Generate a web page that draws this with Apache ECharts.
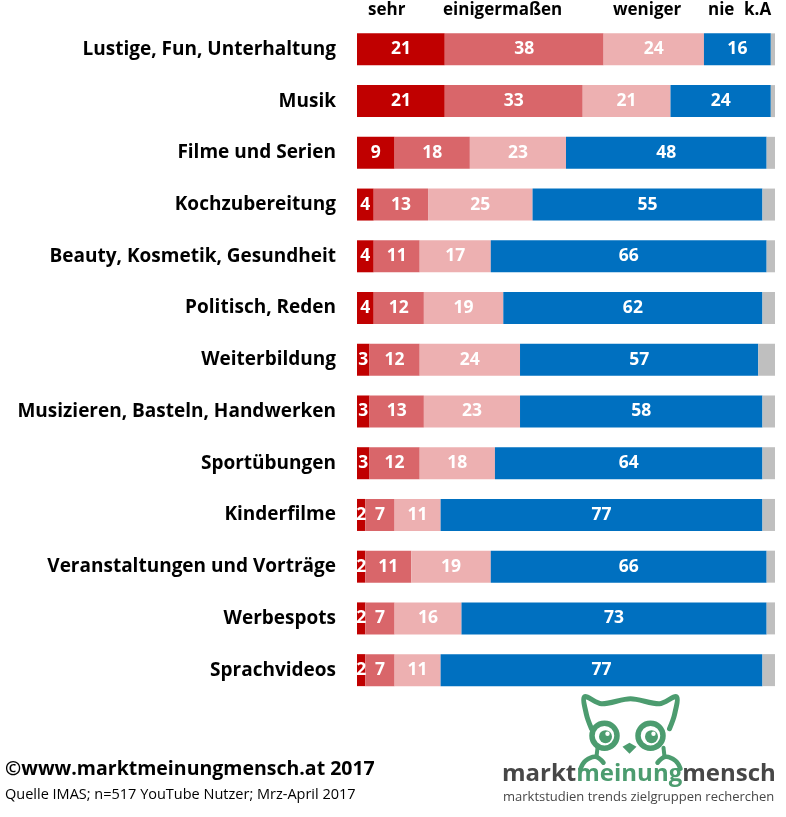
<!DOCTYPE html>
<html><head><meta charset="utf-8">
<script src="https://cdn.jsdelivr.net/npm/echarts@6/dist/echarts.min.js"></script>
<style>html,body{margin:0;padding:0;background:#fff}#c{width:786px;height:817px}</style>
</head><body><div id="c"></div>
<script>
const categories = ["Lustige, Fun, Unterhaltung","Musik","Filme und Serien","Kochzubereitung","Beauty, Kosmetik, Gesundheit","Politisch, Reden","Weiterbildung","Musizieren, Basteln, Handwerken","Sportübungen","Kinderfilme","Veranstaltungen und Vorträge","Werbespots","Sprachvideos"];
const seriesNames = ["sehr","einigermaßen","weniger","nie","k.A"];
const sehr = [21,21,9,4,4,4,3,3,3,2,2,2,2];
const einigermassen = [38,33,18,13,11,12,12,13,12,7,11,7,7];
const weniger = [24,21,23,25,17,19,24,23,18,11,19,16,11];
const nie = [16,24,48,55,66,62,57,58,64,77,66,73,77];
const kA = [1,1,2,3,2,3,4,3,3,3,2,2,3];
const colors = ["#C00000","#D9666A","#EDB0B1","#0070C0","#BFBFBF"];
const values = [sehr,einigermassen,weniger,nie,kA];

const chart = echarts.init(document.getElementById('c'));
const FONT = 'Open Sans';
const series = values.map((v,i)=>({
  name: seriesNames[i], type:'bar', stack:'t', data:v, barWidth:32,
  itemStyle:{color:colors[i]},
  label:{show:i<4, position:'inside', color:'#fff', fontFamily:FONT, fontWeight:'bold', fontSize:17.5, overflow:'none'}
}));
const green = '#4C9C6F';
const dark = '#474747';
chart.setOption({
  animation:false,
  grid:{left:357,right:11,top:23.5,bottom:817-696,containLabel:false},
  xAxis:{type:'value',min:0,max:100,show:false},
  yAxis:{type:'category',data:categories,inverse:true,axisLine:{show:false},axisTick:{show:false},
    axisLabel:{color:'#000',fontFamily:FONT,fontWeight:'bold',fontSize:19,margin:21}},
  series,
  graphic:[
    {type:'text',left:368,top:2,style:{text:'sehr',font:'bold 17px "Open Sans"',fill:'#000'}},
    {type:'text',left:443,top:2,style:{text:'einigermaßen',font:'bold 17px "Open Sans"',fill:'#000'}},
    {type:'text',left:613,top:2,style:{text:'weniger',font:'bold 17px "Open Sans"',fill:'#000'}},
    {type:'text',left:708,top:2,style:{text:'nie',font:'bold 17px "Open Sans"',fill:'#000'}},
    {type:'text',left:744,top:2,style:{text:'k.A',font:'bold 17px "Open Sans"',fill:'#000'}},
    {type:'text',left:5,top:759,style:{text:'©www.marktmeinungmensch.at 2017',font:'bold 19.5px "Open Sans"',fill:'#000'}},
    {type:'text',left:5,top:787,style:{text:'Quelle IMAS; n=517 YouTube Nutzer; Mrz-April 2017',font:'14.5px "Open Sans"',fill:'#000'}},
    {type:'group',left:578,top:694,children:[
      {type:'polyline',shape:{points:[[14,36],[9,22],[7,4],[24,11],[53,6],[82,11],[99,4],[97,22],[92,36]],smooth:0.3},style:{stroke:green,lineWidth:5,fill:null,lineJoin:'round',lineCap:'round'}},
      {type:'circle',shape:{cx:27,cy:43,r:12.5},style:{fill:'#fff',stroke:green,lineWidth:5.5}},
      {type:'circle',shape:{cx:73,cy:43,r:12.5},style:{fill:'#fff',stroke:green,lineWidth:5.5}},
      {type:'circle',shape:{cx:28,cy:44,r:6.5},style:{fill:green}},
      {type:'circle',shape:{cx:74,cy:44,r:6.5},style:{fill:green}},
      {type:'circle',shape:{cx:30,cy:41,r:2.2},style:{fill:'#fff'}},
      {type:'circle',shape:{cx:76,cy:41,r:2.2},style:{fill:'#fff'}},
      {type:'polygon',shape:{points:[[45,54],[52,50],[59,54],[52,61]]},style:{fill:green}},
      {type:'polyline',shape:{points:[[20,55],[19,64]]},style:{stroke:green,lineWidth:4,fill:null,lineCap:'round'}},
      {type:'polyline',shape:{points:[[86,55],[87,64]]},style:{stroke:green,lineWidth:4,fill:null,lineCap:'round'}},
      {type:'polyline',shape:{points:[[3,76],[8,68],[18,64],[26,70]],smooth:0.4},style:{stroke:green,lineWidth:4.5,fill:null,lineCap:'round'}},
      {type:'polyline',shape:{points:[[103,76],[98,68],[88,64],[80,70]],smooth:0.4},style:{stroke:green,lineWidth:4.5,fill:null,lineCap:'round'}}
    ]},
    {type:'text',left:502,top:762,style:{rich:{a:{font:'bold 24px "Open Sans"',fill:dark},b:{font:'bold 24px "Open Sans"',fill:green}},text:'{a|markt}{b|meinung}{a|mensch}'}},
    {type:'text',left:503,top:791,style:{text:'marktstudien trends zielgruppen recherchen',font:'13px "Open Sans"',fill:dark}}
  ]
});
</script></body></html>
